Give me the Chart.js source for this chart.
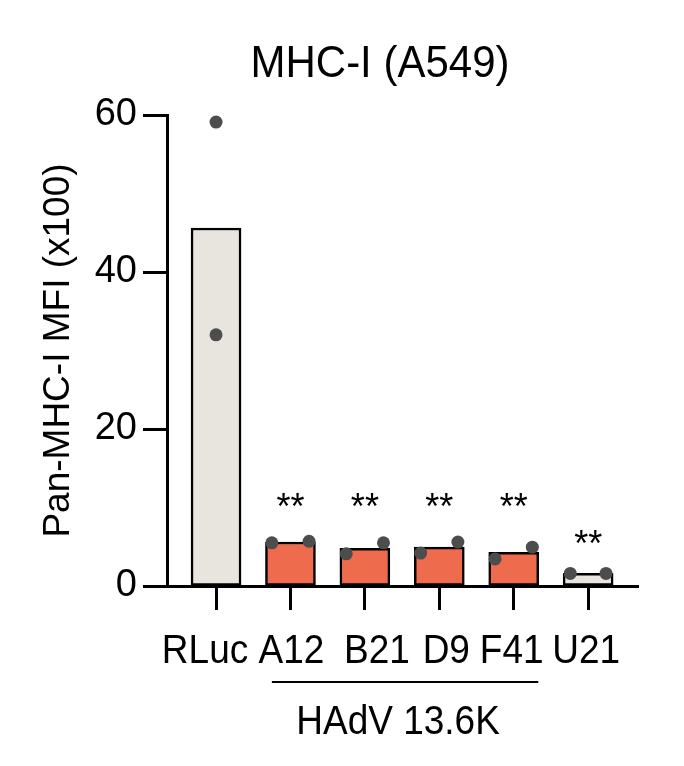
<!DOCTYPE html>
<html>
<head>
<meta charset="utf-8">
<script src="https://cdn.jsdelivr.net/npm/chart.js@4"></script>
<style>
  html, body { margin: 0; padding: 0; background: #fff; }
  #wrap { width: 684px; height: 766px; }
</style>
</head>
<body>
<div id="wrap"><canvas id="c" width="684" height="766"></canvas></div>
<script>
// ---- data ----
const categories = ['RLuc', 'A12', 'B21', 'D9', 'F41', 'U21'];
const barMeans = [45.6, 5.6, 4.8, 4.95, 4.3, 1.6];
const rep1 = [59.1, 5.5, 4.1, 4.2, 3.45, 1.6];
const rep2 = [32.0, 5.7, 5.5, 5.6, 4.95, 1.6];
const significance = ['', '**', '**', '**', '**', '**'];
const sigY = [null, 11.2, 11.2, 11.2, 11.2, 6.5];
const yTicks = [0, 20, 40, 60];
const groupLabel = 'HAdV 13.6K';
const groupRange = [1, 4];

// ---- style ----
const FONT = '"Liberation Sans", Arial, Helvetica, sans-serif';
const barColors = ['#E8E5DE', '#EE6C4D', '#EE6C4D', '#EE6C4D', '#EE6C4D', '#E8E5DE'];
const jitter = [[0, 0], [-0.25, 0.25], [-0.25, 0.25], [-0.25, 0.25], [-0.25, 0.25], [-0.24, 0.24]];
const labelShiftPx = [-11, 1, 12, 7, -2, -2];

const points = [];
categories.forEach((c, i) => {
  points.push({ x: i + jitter[i][0], y: rep1[i] });
  points.push({ x: i + jitter[i][1], y: rep2[i] });
});

function stretchedText(ctx, text, x, y, sy) {
  ctx.save();
  ctx.translate(x, y);
  ctx.scale(1, sy);
  ctx.fillText(text, 0, 0);
  ctx.restore();
}

const annotPlugin = {
  id: 'annot',
  afterDraw(chart) {
    const ctx = chart.ctx;
    const xs = chart.scales.x, ys = chart.scales.y;
    ctx.save();
    ctx.fillStyle = '#000';
    // title
    ctx.font = '42px ' + FONT;
    ctx.textAlign = 'center';
    ctx.textBaseline = 'alphabetic';
    stretchedText(ctx, 'MHC-I (A549)', 380, 77, 1.05);
    // significance stars
    ctx.font = '36px ' + FONT;
    significance.forEach((s, i) => {
      if (!s) return;
      const px = xs.getPixelForValue(i);
      const py = ys.getPixelForValue(sigY[i]);
      ctx.fillText(s, px, py + 21);
    });
    // category labels
    ctx.font = '37px ' + FONT;
    categories.forEach((c, i) => {
      stretchedText(ctx, c, xs.getPixelForValue(i) + labelShiftPx[i], ys.bottom + 77, 1.1);
    });
    // group line & label
    const x1 = xs.getPixelForValue(groupRange[0] - 0.25);
    const x2 = xs.getPixelForValue(groupRange[1] + 0.33);
    const ly = ys.bottom + 96;
    ctx.strokeStyle = '#000';
    ctx.lineWidth = 2;
    ctx.beginPath();
    ctx.moveTo(x1, ly);
    ctx.lineTo(x2, ly);
    ctx.stroke();
    ctx.font = '37px ' + FONT;
    stretchedText(ctx, groupLabel, (x1 + x2) / 2 - 7, ly + 52, 1.12);
    ctx.restore();
  }
};

new Chart(document.getElementById('c'), {
  type: 'bar',
  data: {
    datasets: [
      {
        type: 'scatter',
        data: points,
        pointRadius: 6.5,
        pointHoverRadius: 6.5,
        backgroundColor: '#4d4d4d',
        borderColor: '#4d4d4d',
        borderWidth: 0,
        order: 1
      },
      {
        type: 'bar',
        data: barMeans.map((v, i) => ({ x: i, y: v })),
        backgroundColor: barColors,
        borderColor: '#000',
        borderWidth: 2.5,
        borderSkipped: false,
        barThickness: 50,
        order: 2
      }
    ]
  },
  options: {
    responsive: false,
    animation: false,
    events: [],
    layout: { padding: { left: 33, top: 115, right: 46, bottom: 0 } },
    plugins: { legend: { display: false }, tooltip: { enabled: false }, title: { display: false } },
    scales: {
      x: {
        type: 'linear',
        offset: false,
        min: -0.659,
        max: 5.67,
        afterBuildTicks(scale) { scale.ticks = categories.map((c, i) => ({ value: i })); },
        afterFit(scale) { scale.height = 180; },
        ticks: { display: false },
        grid: { offset: false, drawOnChartArea: false, drawTicks: true, tickLength: 24, tickWidth: 3, color: '#000' },
        border: { display: true, width: 3, color: '#000' }
      },
      y: {
        min: 0,
        max: 60,
        afterBuildTicks(scale) { scale.ticks = yTicks.map(v => ({ value: v })); },
        afterFit(scale) { scale.width = 134; },
        ticks: {
          font: { family: FONT, size: 38 },
          color: '#000',
          padding: 6
        },
        grid: { drawOnChartArea: false, drawTicks: true, tickLength: 24, tickWidth: 3, color: '#000' },
        border: { display: true, width: 3, color: '#000' },
        title: {
          display: true,
          text: 'Pan-MHC-I MFI (x100)',
          font: { family: FONT, size: 37 },
          color: '#000',
          padding: { top: 4, bottom: 4 }
        }
      }
    }
  },
  plugins: [annotPlugin]
});
</script>
</body>
</html>
